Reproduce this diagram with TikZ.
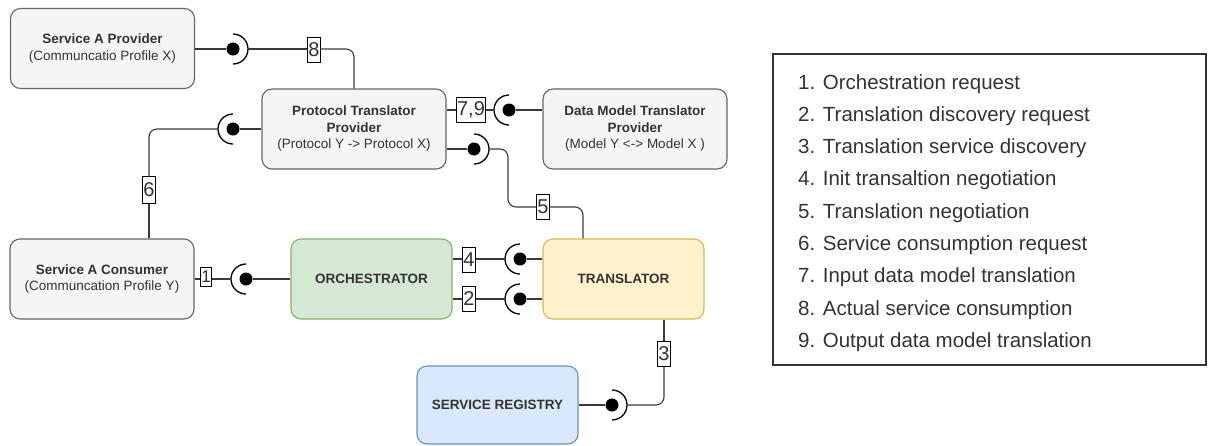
\documentclass[tikz,border=0pt]{standalone}
\usepackage{fontspec}
\setmainfont{Liberation Sans}
\usetikzlibrary{positioning}
\definecolor{txt}{HTML}{333333}
\definecolor{wire}{HTML}{3A3A3A}
\definecolor{grayfill}{HTML}{F5F5F5}
\definecolor{grayline}{HTML}{666666}
\definecolor{greenfill}{HTML}{D5E8D4}
\definecolor{greenline}{HTML}{82B366}
\definecolor{yellowfill}{HTML}{FFF2CC}
\definecolor{yellowline}{HTML}{D6B656}
\definecolor{bluefill}{HTML}{DAE8FC}
\definecolor{blueline}{HTML}{6C8EBF}
\tikzset{
  box/.style={rounded corners=10pt, line width=1.1pt, align=center,
    text=txt, font=\fontsize{13.5}{16.5}\selectfont, inner sep=0pt},
  graybox/.style={box, draw=grayline, fill=grayfill,
    minimum width=184pt, minimum height=80pt},
  greenbox/.style={box, draw=greenline, fill=greenfill,
    minimum width=161pt, minimum height=80pt},
  yellowbox/.style={box, draw=yellowline, fill=yellowfill,
    minimum width=161pt, minimum height=80pt},
  bluebox/.style={box, draw=blueline, fill=bluefill,
    minimum width=161pt, minimum height=78pt},
  wire/.style={draw=wire, line width=1.1pt},
  ball/.style={circle, fill=black, inner sep=0pt, minimum size=13pt},
  socket/.style={draw=black, line width=1.3pt},
  lbl/.style={draw=black, fill=white, line width=1pt, inner xsep=0.6pt,
    inner ysep=0pt, minimum height=25pt, text=txt,
    font=\fontsize{20}{20}\selectfont},
  legitem/.style={anchor=base west, text=txt, font=\fontsize{20.5}{22}\selectfont, inner sep=0pt}
}
\begin{document}
\begin{tikzpicture}[x=1pt, y=-1pt]
\useasboundingbox (0,0) rectangle (1209,445);

% ---- components ----
\node[graybox] (sap) at (102.5,48.5) {\textbf{Service A Provider}\\(Communcatio Profile X)};
\node[graybox] (ptp) at (354,129) {\textbf{Protocol Translator}\\\textbf{Provider}\\(Protocol Y -> Protocol X)};
\node[graybox] (dmtp) at (635,129) {\textbf{Data Model Translator}\\\textbf{Provider}\\(Model Y <-> Model X )};
\node[graybox] (sac) at (102,279) {\textbf{Service A Consumer}\\(Communcation Profile Y)};
\node[greenbox] (orch) at (371.5,279) {\textbf{ORCHESTRATOR}};
\node[yellowbox] (tr) at (623.5,279) {\textbf{TRANSLATOR}};
\node[bluebox] (sr) at (497.5,405) {\textbf{SERVICE REGISTRY}};

% ---- provided interfaces (balls) ----
\node[ball] (b8) at (233,49) {};
\node[ball] (b6) at (233,129) {};
\node[ball] (b79) at (509,110) {};
\node[ball] (b5) at (474,149) {};
\node[ball] (b1) at (246,279) {};
\node[ball] (b4) at (520,259) {};
\node[ball] (b2) at (520,299) {};
\node[ball] (b3) at (612,405) {};

% ---- required interfaces (sockets): apex points ----
\coordinate (s8) at (248,49);
\coordinate (s6) at (218,129);
\coordinate (s79) at (494,110);
\coordinate (s5) at (489,149);
\coordinate (s1) at (231,279);
\coordinate (s4) at (505,259);
\coordinate (s2) at (505,299);
\coordinate (s3) at (627,405);

\draw[socket] (b8) ++(0,-15) arc[start angle=-90, end angle=90, radius=15];
\draw[socket] (b6) ++(0,15) arc[start angle=90, end angle=270, radius=15];
\draw[socket] (b79) ++(0,15) arc[start angle=90, end angle=270, radius=15];
\draw[socket] (b5) ++(0,-15) arc[start angle=-90, end angle=90, radius=15];
\draw[socket] (b1) ++(0,15) arc[start angle=90, end angle=270, radius=15];
\draw[socket] (b4) ++(0,15) arc[start angle=90, end angle=270, radius=15];
\draw[socket] (b2) ++(0,15) arc[start angle=90, end angle=270, radius=15];
\draw[socket] (b3) ++(0,-15) arc[start angle=-90, end angle=90, radius=15];

% ---- ball stems ----
\draw[wire] (sap.east |- b8) -- (b8);
\draw[wire] (ptp.west |- b6) -- (b6);
\draw[wire] (dmtp.west |- b79) -- (b79);
\draw[wire] (ptp.east |- b5) -- (b5);
\draw[wire] (orch.west |- b1) -- (b1);
\draw[wire] (tr.west |- b4) -- (b4);
\draw[wire] (tr.west |- b2) -- (b2);
\draw[wire] (sr.east |- b3) -- (b3);

% ---- step labels ----
\node[lbl] (l8) at (314,50) {8};
\node[lbl, minimum height=27pt] (l6) at (149,190) {6};
\node[lbl] (l79) at (471,110) {7,9};
\node[lbl] (l5) at (543,207) {5};
\node[lbl, minimum height=19pt, font=\fontsize{17}{17}\selectfont] (l1) at (206,277) {1};
\node[lbl] (l4) at (469,260) {4};
\node[lbl] (l2) at (469,299) {2};
\node[lbl] (l3) at (664,354) {3};

% ---- socket wires ----
\coordinate (c8) at (354,49);
\coordinate (c6) at (149,129);
\coordinate (c5a) at (508,149);
\coordinate (c5b) at (508,207);
\coordinate (c5c) at (583,207);
\coordinate (c3) at (664,405);

\draw[wire] (s8) -- (l8.west |- s8);
\draw[wire, rounded corners=8pt] (l8.east |- s8) -- (c8) -- (ptp.north -| c8);
\draw[wire, rounded corners=8pt] (s6) -- (c6) -- (l6.north);
\draw[wire] (l6.south) -- (sac.north -| c6);
\draw[wire] (ptp.east |- s79) -- (l79.west);
\draw[wire] (l79.east) -- (s79);
\draw[wire, rounded corners=8pt] (s5) -- (c5a) -- (c5b) -- (l5.west);
\draw[wire, rounded corners=8pt] (l5.east) -- (c5c) -- (tr.north -| c5c);
\draw[wire] (sac.east |- s1) -- (l1.west |- s1);
\draw[wire] (l1.east |- s1) -- (s1);
\draw[wire] (orch.east |- s4) -- (l4.west |- s4);
\draw[wire] (l4.east |- s4) -- (s4);
\draw[wire] (orch.east |- s2) -- (l2.west);
\draw[wire] (l2.east) -- (s2);
\draw[wire] (tr.south -| c3) -- (l3.north);
\draw[wire, rounded corners=8pt] (l3.south) -- (c3) -- (s3);

% ---- legend ----
\node[draw=black!80, line width=1.2pt, minimum width=433pt, minimum height=311pt,
      inner sep=0pt] (legend) at (989.5,209.5) {};
\foreach \i/\t in {1/Orchestration request,
                   2/Translation discovery request,
                   3/Translation service discovery,
                   4/Init transaltion negotiation,
                   5/Translation negotiation,
                   6/Service consumption request,
                   7/Input data model translation,
                   8/Actual service consumption,
                   9/Output data model translation}
  \node[legitem] (leg\i) at (798, {82 + 32.3*(\i-1) + 7}) {\i. \t};
\end{tikzpicture}
\end{document}
